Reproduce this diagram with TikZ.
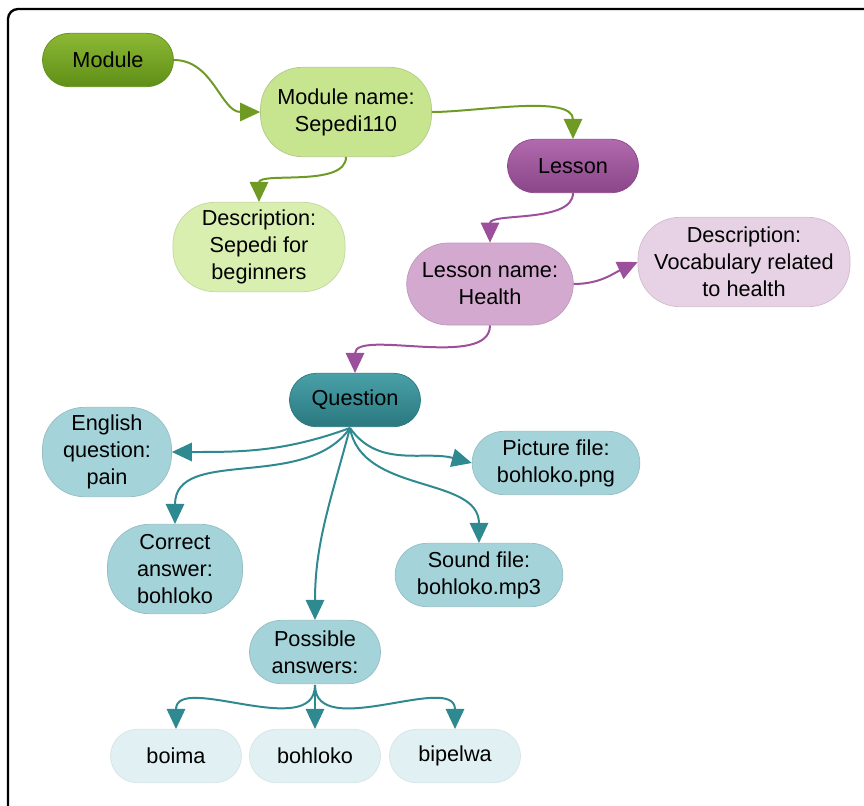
\documentclass[tikz,border=0pt]{standalone}
\usepackage{fontspec}
\setmainfont{Liberation Sans}
\usetikzlibrary{arrows.meta}

\definecolor{modDarkT}{HTML}{8CB833}
\definecolor{modDarkB}{HTML}{5F8F18}
\definecolor{modMid}{HTML}{C7E58F}
\definecolor{modLight}{HTML}{D9EFB0}
\definecolor{modArrow}{HTML}{6F9A23}
\definecolor{lesDarkT}{HTML}{B06AAD}
\definecolor{lesDarkB}{HTML}{8A4688}
\definecolor{lesMid}{HTML}{D3A9D0}
\definecolor{lesLight}{HTML}{E7D1E5}
\definecolor{lesArrow}{HTML}{9C4F9A}
\definecolor{qDarkT}{HTML}{4AA0A8}
\definecolor{qDarkB}{HTML}{2A7880}
\definecolor{qMid}{HTML}{A4D3D9}
\definecolor{qLight}{HTML}{E1F0F3}
\definecolor{qArrow}{HTML}{2F8990}

\begin{document}
\begin{tikzpicture}
  [x=0.03cm, y=-0.03cm,
   font=\fontsize{18.5}{23}\selectfont,
   baseN/.style={rectangle, align=center, inner sep=2pt, line width=0.6pt},
   shortN/.style={baseN, minimum width=3.93cm, minimum height=1.6cm, rounded corners=0.8cm},
   tallN/.style={baseN, minimum height=2.68cm, rounded corners=1.25cm},
   wideN/.style={baseN, minimum width=5.03cm, minimum height=1.9cm, rounded corners=0.95cm},
   modDark/.style={shortN, top color=modDarkT, bottom color=modDarkB, draw=modDarkB},
   lesDark/.style={shortN, top color=lesDarkT, bottom color=lesDarkB, draw=lesDarkB},
   qDark/.style={shortN, top color=qDarkT, bottom color=qDarkB, draw=qDarkB},
   link/.style={line width=1.7pt, -{Triangle[length=0.6cm, width=0.55cm]}},
  ]

 \useasboundingbox (0,0) rectangle (864,805);
 \clip (0,0) rectangle (864,805);
 \draw[line width=2pt, rounded corners=0.3cm] (8,9) rectangle (900,840);

 % module part
 \node[modDark] (mod) at (108,60) {Module};
 \node[tallN, fill=modMid, draw=modMid!85!black!90, minimum width=5.13cm] (modName) at (346,112) {Module name:\\Sepedi110};
 \node[tallN, fill=modLight, draw=modLight!90!black, minimum width=5.16cm] (modDesc) at (259,247) {Description:\\Sepedi for\\beginners};

 % lesson part
 \node[lesDark] (les) at (573,166) {Lesson};
 \node[tallN, fill=lesMid, draw=lesMid!90!black, minimum width=5.0cm, minimum height=2.46cm] (lesName) at (490,284) {Lesson name:\\Health};
 \node[tallN, fill=lesLight, draw=lesLight!90!black, minimum width=6.36cm] (lesDesc) at (744,262) {Description:\\Vocabulary related\\to health};

 % question part
 \node[qDark] (q) at (355,400) {Question};
 \node[tallN, fill=qMid, draw=qMid!90!black, minimum width=3.87cm] (qEng) at (107,452) {English\\question:\\pain};
 \node[wideN, fill=qMid, draw=qMid!90!black] (qPic) at (556,463) {Picture file:\\bohloko.png};
 \node[tallN, fill=qMid, draw=qMid!90!black, minimum width=4.05cm] (qCorr) at (175,569) {Correct\\answer:\\bohloko};
 \node[wideN, fill=qMid, draw=qMid!90!black] (qSound) at (479,575) {Sound file:\\bohloko.mp3};
 \node[shortN, fill=qMid, draw=qMid!90!black, minimum height=1.9cm, rounded corners=0.95cm] (qPoss) at (315,652) {Possible\\answers:};
 \node[shortN, fill=qLight, draw=qLight!95!black] (ans1) at (176,756) {boima};
 \node[shortN, fill=qLight, draw=qLight!95!black] (ans2) at (315,756) {bohloko};
 \node[shortN, fill=qLight, draw=qLight!95!black] (ans3) at (455,756) {bipelwa};

 \coordinate (qFoot) at (350,428);
 \coordinate (possFoot) at (315,685);

 % connectors
 \draw[link, modArrow] (mod.east) to[out=0, in=180] (modName.west);
 \draw[link, modArrow] (modName.east) to[out=0, in=90, looseness=0.8] (les.north);
 \draw[link, modArrow] (modName.south) to[out=-90, in=90, looseness=0.8] (modDesc.north);
 \draw[link, lesArrow] (les.south) to[out=-90, in=90, looseness=0.8] (lesName.north);
 \draw[link, lesArrow] (lesName.east) to[out=0, in=205] (lesDesc.west);
 \draw[link, lesArrow] (lesName.south) to[out=-90, in=90, looseness=0.8] (q.north);

 \draw[link, qArrow] (qFoot) to[out=200, in=0] (qEng.east);
 \draw[link, qArrow] (qFoot) to[out=-125, in=90] (qCorr.north);
 \draw[link, qArrow] (qFoot) to[out=-105, in=90] (qPoss.north);
 \draw[link, qArrow] (qFoot) to[out=-80, in=90] (qSound.north);
 \draw[link, qArrow] (qFoot) to[out=-55, in=165] (qPic.west);

 \draw[link, qArrow] (possFoot) to[out=-90, in=90] (ans1.north);
 \draw[link, qArrow] (possFoot) -- (ans2.north);
 \draw[link, qArrow] (possFoot) to[out=-90, in=90] (ans3.north);
\end{tikzpicture}
\end{document}
